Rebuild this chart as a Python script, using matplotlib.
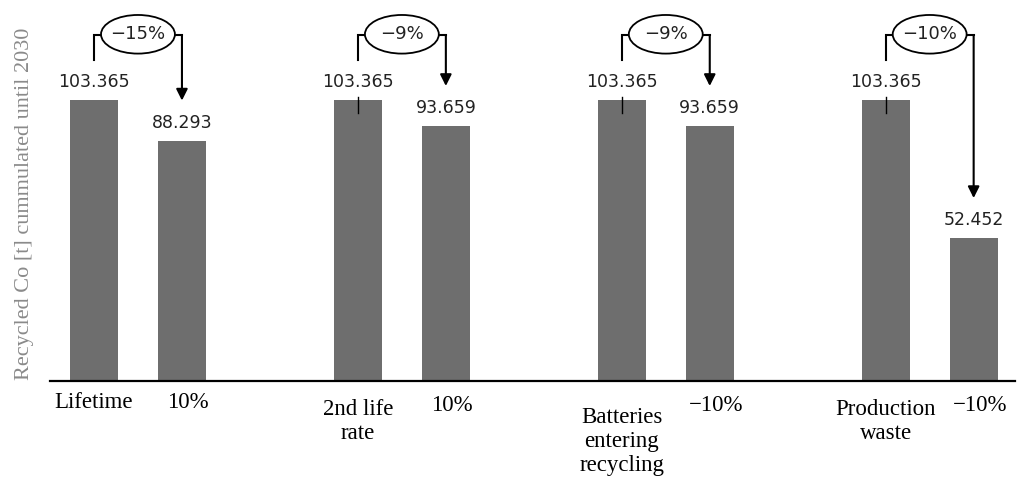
import matplotlib.pyplot as plt
from matplotlib.patches import Ellipse

# recycled Co [t] cumulated until 2030, base case vs. varied parameter
base_values = [103.365, 103.365, 103.365, 103.365]
varied_values = [88.293, 93.659, 93.659, 52.452]
changes = ["\u221215%", "\u22129%", "\u22129%", "\u221210%"]
parameters = ["Lifetime", "2nd life\nrate", "Batteries\nentering\nrecycling", "Production\nwaste"]
variations = ["10%", "10%", "\u221210%", "\u221210%"]

bar_color = "#6e6e6e"
serif = ["Liberation Serif", "DejaVu Serif"]

fig = plt.figure(figsize=(10.17, 4.78), dpi=100)
ax = fig.add_axes([50 / 1017, 97 / 478, 965 / 1017, 381 / 478])

x_base = [3 * i for i in range(len(base_values))]
x_var = [3 * i + 1 for i in range(len(base_values))]

ax.bar(x_base, base_values, width=0.545, color=bar_color)
ax.bar(x_var, varied_values, width=0.545, color=bar_color)

ax.set_xlim(-0.5, 10.47)
ax.set_ylim(0, 140.07)
for s in ["top", "right", "left"]:
    ax.spines[s].set_visible(False)
ax.spines["bottom"].set_linewidth(1.6)
ax.set_xticks([])
ax.set_yticks([])

# value labels above the bars
for xb, vb, xv, vv in zip(x_base, base_values, x_var, varied_values):
    ax.text(xb, vb + 6.6, f"{vb:.3f}", ha="center", va="center", fontsize=12.5, color="#222222")
    ax.text(xv, vv + 6.6, f"{vv:.3f}", ha="center", va="center", fontsize=12.5, color="#222222")

# bracket with the relative change and arrow to the varied bar
for i, (xb, vb, xv, vv, ch) in enumerate(zip(x_base, base_values, x_var, varied_values, changes)):
    top = vb + 23.8
    ax.plot([xb, xb, xv], [vb + 14.7, top, top], color="black", lw=1.5, solid_joinstyle="miter")
    if i > 0:
        ax.plot([xb, xb], [vb + 1.0, vb - 4.8], color="black", lw=1.0)
    ax.annotate("", xy=(xv, vv + 14.8), xytext=(xv, top),
                arrowprops=dict(arrowstyle="-|>", color="black", lw=1.5,
                                mutation_scale=17, shrinkA=0, shrinkB=0))
    ax.add_patch(Ellipse(((xb + xv) / 2, top + 0.3), 0.84, 14.2,
                         facecolor="white", edgecolor="black", lw=1.3, zorder=3))
    ax.text((xb + xv) / 2, top + 0.3, ch, ha="center", va="center",
            fontsize=13, color="#222222", zorder=4)

# category labels under the axis
param_y = [-4.0, -6.5, -9.5, -6.5]
var_y = [-4.0, -5.3, -5.3, -5.3]
for xb, xv, p, v, py, vy in zip(x_base, x_var, parameters, variations, param_y, var_y):
    ax.text(xb, py, p, ha="center", va="top", fontsize=16.5, family=serif,
            linespacing=1.2, clip_on=False)
    ax.text(xv + 0.07, vy, v, ha="center", va="top", fontsize=16.5, family=serif, clip_on=False)

fig.text(25 / 1017, 1 - 204 / 478, "Recycled Co [t] cummulated until 2030", rotation=90,
         ha="center", va="center", fontsize=16, family=serif, color="#8a8a8a")

fig.savefig("out.png", dpi=100)
